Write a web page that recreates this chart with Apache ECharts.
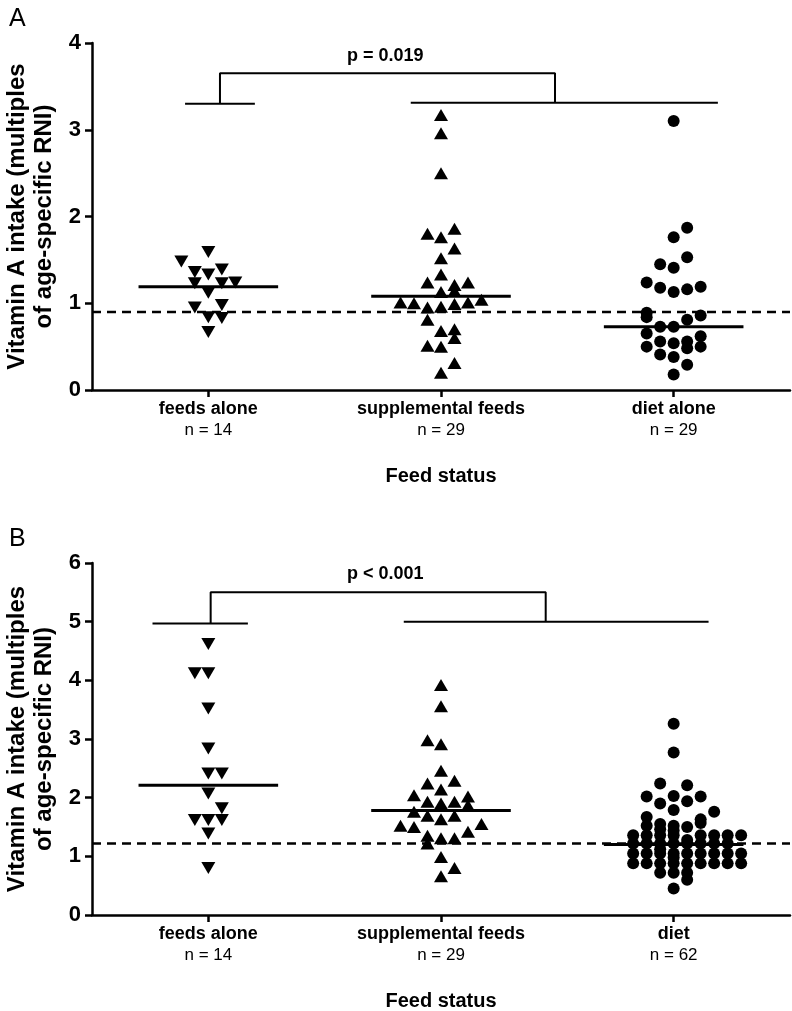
<!DOCTYPE html>
<html><head><meta charset="utf-8">
<script src="https://cdn.jsdelivr.net/npm/echarts@6/dist/echarts.min.js"></script>
<style>html,body{margin:0;padding:0;background:#fff}#c{width:792px;height:1011px}</style>
</head><body><div id="c"></div>
<script>
// ---------- Panel A data ----------
const categoriesA = ['feeds alone', 'supplemental feeds', 'diet alone'];
const countsA = [14, 29, 29];
const a1Values = [1.59, 1.48, 1.36, 1.33, 1.39, 1.23, 1.23, 1.24, 1.12, 0.95, 0.98, 0.84, 0.83, 0.67];
const a1Cols   = [0, -2, -1, 0, 1, -1, 1, 2, 0, -1, 1, 0, 1, 0];
const a2Values = [3.17, 2.96, 2.50, 1.80, 1.76, 1.86, 1.63, 1.52, 1.33, 1.24, 1.24, 1.14, 1.13, 1.21,
                  1.01, 1.00, 1.01, 1.04, 0.95, 0.96, 0.99, 0.81, 0.68, 0.70, 0.60, 0.51, 0.50, 0.31, 0.20];
const a2Cols   = [0, 0, 0, -1, 0, 1, 1, 0, 0, -1, 2, 1, 0, 1,
                  -3, -2, 2, 3, -1, 0, 1, -1, 0, 1, 1, -1, 0, 1, 0];
const a3Values = [3.10, 1.87, 1.76, 1.53, 1.45, 1.41, 1.24, 1.18, 1.13, 1.16, 1.19, 0.89, 0.84, 0.86, 0.81,
                  0.73, 0.73, 0.65, 0.62, 0.56, 0.54, 0.56, 0.50, 0.50, 0.48, 0.41, 0.38, 0.29, 0.18];
const a3Cols   = [0, 1, 0, 1, -1, 0, -2, -1, 0, 1, 2, -2, -2, 2, 1,
                  -1, 0, -2, 2, -1, 0, 1, 2, -2, 1, -1, 0, 1, 0];
const mediansA = [1.19, 1.08, 0.73];
const refLineA = 0.90;
const pTextA = 'p = 0.019';

// ---------- Panel B data ----------
const categoriesB = ['feeds alone', 'supplemental feeds', 'diet'];
const countsB = [14, 29, 62];
const b1Values = [4.62, 4.12, 4.12, 3.52, 2.84, 2.41, 2.41, 2.07, 1.82, 1.62, 1.62, 1.62, 1.39, 0.80];
const b1Cols   = [0, -1, 0, 0, 0, 0, 1, 0, 1, -1, 0, 1, 0, 0];
const b2Values = [3.92, 3.56, 2.98, 2.91, 2.46, 2.24, 2.29, 2.14, 2.04, 1.93, 1.90, 1.93, 2.02, 1.87,
                  1.76, 1.69, 1.63, 1.69, 1.52, 1.50, 1.55, 1.42, 1.35, 1.31, 1.31, 1.22, 0.99, 0.80, 0.66];
const b2Cols   = [0, 0, -1, 0, 0, -1, 1, 0, -2, -1, 0, 1, 2, 2,
                  -2, -1, 0, 1, -3, -2, 3, 2, -1, 0, 1, -1, 0, 1, 0];
const b3Values = [3.26, 2.77, 2.24, 2.21, 2.02, 2.03, 2.02, 1.90, 1.94, 1.79, 1.76, 1.67, 1.63,
                  1.52, 1.55, 1.52, 1.50, 1.57, 1.46, 1.44,
                  1.36, 1.36, 1.36, 1.36, 1.36, 1.36, 1.36, 1.36,
                  1.22, 1.22, 1.22, 1.22, 1.22, 1.22, 1.22, 1.22,
                  1.05, 1.05, 1.05, 1.05, 1.05, 1.05, 1.05, 1.05, 1.05,
                  0.88, 0.88, 0.88, 0.88, 0.88, 0.88, 0.88, 0.88, 0.88,
                  0.72, 0.72, 0.72, 0.60, 0.45, 1.12, 0.98, 1.28];
const b3Cols   = [0, 0, -1, 1, -2, 0, 2, -1, 1, 0, 3, -2, 2,
                  -2, -1, 0, 1, 2, -1, 0,
                  -3, -2, -1, 0, 2, 3, 4, 5,
                  -3, -2, -1, 0, 1, 2, 3, 4,
                  -3, -2, -1, 0, 1, 2, 3, 4, 5,
                  -3, -2, -1, 0, 1, 2, 3, 4, 5,
                  -1, 0, 1, 1, 0, -1, 0, 1];
const mediansB = [2.21, 1.78, 1.20];
const refLineB = 1.22;
const pTextB = 'p < 0.001';

const yTitle = 'Vitamin A intake (multiples\nof age-specific RNI)';
const xTitle = 'Feed status';

// ---------- helpers ----------
const STEP = 0.058;
const FONT = 'Liberation Sans, Arial, sans-serif';
function pts(g, vals, cols) { return vals.map((v, i) => [g + cols[i] * STEP, v]); }
function seg(data, xi, yi, w, dashed) {
  return { type: 'line', xAxisIndex: xi, yAxisIndex: yi, data: data, symbol: 'none', silent: true,
    lineStyle: { color: '#000', width: w, opacity: 1, type: dashed ? [9, 6] : 'solid' }, z: 3, animation: false };
}
function scat(data, xi, yi, sym, size, rot) {
  return { type: 'scatter', xAxisIndex: xi, yAxisIndex: yi, data: data, symbol: sym, symbolSize: size,
    symbolRotate: rot || 0, itemStyle: { color: '#000', opacity: 1 }, z: 4, animation: false, silent: true };
}
function textAt(x, y, txt, xi, yi) {
  return { type: 'scatter', xAxisIndex: xi, yAxisIndex: yi, data: [[x, y]], symbolSize: 1,
    itemStyle: { color: 'rgba(0,0,0,0)', opacity: 1 }, silent: true, animation: false, z: 5,
    label: { show: true, position: 'inside', formatter: txt, color: '#000', opacity: 1,
      fontSize: 18, fontWeight: 'bold', fontFamily: FONT } };
}
function catAxis(grid, cats, counts) {
  return { type: 'category', gridIndex: grid, data: cats, boundaryGap: true,
    axisLine: { show: true, lineStyle: { color: '#000', width: 2.5 } },
    axisTick: { show: true, alignWithLabel: true, length: 7, lineStyle: { color: '#000', width: 2.5 } },
    axisLabel: { margin: 9, interval: 0,
      formatter: (v, i) => '{a|' + v + '}\n{b|n = ' + counts[i] + '}',
      rich: { a: { fontSize: 18, fontWeight: 'bold', fontFamily: FONT, color: '#000', lineHeight: 21 },
              b: { fontSize: 17, fontFamily: FONT, color: '#000', lineHeight: 20 } } },
    name: xTitle, nameLocation: 'middle', nameGap: 76,
    nameTextStyle: { fontSize: 20, fontWeight: 'bold', fontFamily: FONT, color: '#000' } };
}
function valXAxis(grid) {
  return { type: 'value', gridIndex: grid, min: 0.5, max: 3.5, show: false };
}
function valYAxis(grid, max) {
  return { type: 'value', gridIndex: grid, min: 0, max: max, interval: 1,
    axisLine: { show: true, lineStyle: { color: '#000', width: 2.5 } },
    axisTick: { show: true, length: 7, lineStyle: { color: '#000', width: 2.5 } },
    splitLine: { show: false },
    axisLabel: { fontSize: 22, fontWeight: 'bold', fontFamily: FONT, color: '#000', margin: 11 },
    name: yTitle, nameLocation: 'middle', nameGap: 33, nameRotate: 90,
    nameTextStyle: { fontSize: 24, fontWeight: 'bold', fontFamily: FONT, color: '#000', lineHeight: 27 } };
}

const HALF = 0.3;
const series = [
  // Panel A
  seg([[0.5, refLineA], [3.5, refLineA]], 1, 0, 2.5, true),
  seg([[1 - HALF, mediansA[0]], [1 + HALF, mediansA[0]]], 1, 0, 3),
  seg([[2 - HALF, mediansA[1]], [2 + HALF, mediansA[1]]], 1, 0, 3),
  seg([[3 - HALF, mediansA[2]], [3 + HALF, mediansA[2]]], 1, 0, 3),
  scat(pts(1, a1Values, a1Cols), 1, 0, 'triangle', [14, 12], 180),
  scat(pts(2, a2Values, a2Cols), 1, 0, 'triangle', [14, 12], 0),
  scat(pts(3, a3Values, a3Cols), 1, 0, 'circle', 12, 0),
  seg([[0.90, 3.30], [1.20, 3.30]], 1, 0, 2),
  seg([[1.87, 3.31], [3.19, 3.31]], 1, 0, 2),
  seg([[1.05, 3.30], [1.05, 3.65], [2.49, 3.65], [2.49, 3.31]], 1, 0, 2),
  textAt(1.76, 3.85, pTextA, 1, 0),
  // Panel B
  seg([[0.5, refLineB], [3.5, refLineB]], 3, 1, 2.5, true),
  seg([[1 - HALF, mediansB[0]], [1 + HALF, mediansB[0]]], 3, 1, 3),
  seg([[2 - HALF, mediansB[1]], [2 + HALF, mediansB[1]]], 3, 1, 3),
  seg([[3 - HALF, mediansB[2]], [3 + HALF, mediansB[2]]], 3, 1, 3),
  scat(pts(1, b1Values, b1Cols), 3, 1, 'triangle', [14, 12], 180),
  scat(pts(2, b2Values, b2Cols), 3, 1, 'triangle', [14, 12], 0),
  scat(pts(3, b3Values, b3Cols), 3, 1, 'circle', 12, 0),
  seg([[0.76, 4.97], [1.17, 4.97]], 3, 1, 2),
  seg([[1.84, 5.00], [3.15, 5.00]], 3, 1, 2),
  seg([[1.01, 4.97], [1.01, 5.50], [2.45, 5.50], [2.45, 5.00]], 3, 1, 2),
  textAt(1.76, 5.82, pTextB, 3, 1)
];

const chart = echarts.init(document.getElementById('c'), null, { renderer: 'canvas' });
chart.setOption({
  animation: false,
  backgroundColor: '#fff',
  title: [
    { text: 'A', left: 4, top: 2, textStyle: { fontSize: 25, fontWeight: 'normal', fontFamily: FONT, color: '#000' } },
    { text: 'B', left: 4, top: 522, textStyle: { fontSize: 25, fontWeight: 'normal', fontFamily: FONT, color: '#000' } }
  ],
  grid: [
    { left: 92, right: 2, top: 43, height: 347, outerBoundsMode: 'none', containLabel: false },
    { left: 92, right: 2, top: 563, height: 352, outerBoundsMode: 'none', containLabel: false }
  ],
  xAxis: [catAxis(0, categoriesA, countsA), valXAxis(0), catAxis(1, categoriesB, countsB), valXAxis(1)],
  yAxis: [valYAxis(0, 4), valYAxis(1, 6)],
  series: series
});
</script>
</body></html>
